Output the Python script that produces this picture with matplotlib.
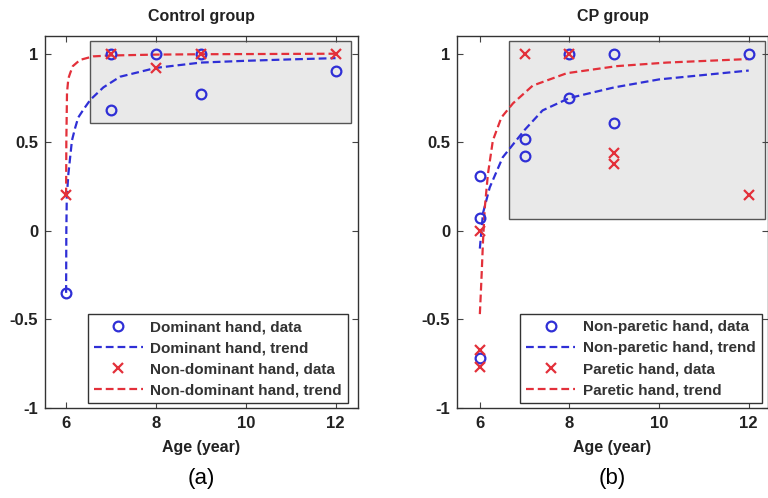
import matplotlib
matplotlib.use("Agg")
import matplotlib.pyplot as plt
from matplotlib.patches import Rectangle

plt.rcParams['font.family'] = ['Liberation Sans', 'DejaVu Sans']

# ---------------- data: Control group ----------------
dom_x = [6, 7, 7, 8, 9, 9, 12]
dom_y = [-0.35, 1.0, 0.68, 1.0, 1.0, 0.77, 0.90]
nondom_x = [6, 7, 8, 9, 12]
nondom_y = [0.20, 1.0, 0.92, 1.0, 1.0]
# trend curves
dom_tr_x = [6, 6.005, 6.015, 6.05, 6.09, 6.13, 6.2, 6.27, 6.4, 6.54, 6.83, 7.2, 8, 9, 10, 11, 12]
dom_tr_y = [-0.35, 0.0, 0.19, 0.32, 0.415, 0.51, 0.58, 0.64, 0.69, 0.74, 0.81, 0.87, 0.92, 0.95, 0.96, 0.968, 0.975]
nondom_tr_x = [6, 6.005, 6.02, 6.05, 6.09, 6.15, 6.31, 6.6, 7, 8, 9, 10, 12]
nondom_tr_y = [0.20, 0.50, 0.78, 0.86, 0.89, 0.93, 0.965, 0.985, 0.99, 0.995, 0.997, 0.998, 1.0]

# ---------------- data: CP group ----------------
np_x = [6, 6, 6, 7, 7, 8, 8, 9, 9, 12]
np_y = [0.31, 0.07, -0.72, 0.52, 0.42, 0.75, 1.0, 1.0, 0.61, 1.0]
par_x = [6, 6, 6, 7, 8, 9, 9, 12]
par_y = [0.0, -0.67, -0.77, 1.0, 1.0, 0.44, 0.38, 0.20]
np_tr_x = [6, 6.07, 6.22, 6.51, 7.0, 7.4, 8, 9, 10, 11, 12]
np_tr_y = [-0.10, 0.10, 0.245, 0.415, 0.57, 0.68, 0.75, 0.81, 0.855, 0.88, 0.905]
par_tr_x = [6, 6.02, 6.04, 6.07, 6.11, 6.18, 6.29, 6.48, 6.74, 7.18, 7.94, 9.06, 10.17, 12]
par_tr_y = [-0.47, -0.36, -0.245, -0.06, 0.13, 0.32, 0.51, 0.64, 0.72, 0.82, 0.89, 0.93, 0.95, 0.97]

xticks = [6, 8, 10, 12]
yticks = [-1, -0.5, 0, 0.5, 1]
ytick_labels = ['-1', '-0.5', '0', '0.5', '1']

BLUE = '#2f2fd6'
RED = '#e3303a'

W, H = 768, 498
fig = plt.figure(figsize=(W / 100, H / 100), dpi=100)


def px_axes(l, r, t, b):
    return fig.add_axes([l / W, (H - b) / H, (r - l) / W, (b - t) / H])


def style(ax, xlim):
    ax.set_xlim(*xlim)
    ax.set_ylim(-1, 1.1)
    ax.set_xticks(xticks)
    ax.set_yticks(yticks)
    ax.set_yticklabels(ytick_labels)
    ax.tick_params(direction='in', top=True, right=True, length=4,
                   labelsize=12, width=0.8, color='#444444')
    ax.tick_params(axis='x', pad=6)
    ax.tick_params(axis='y', pad=5)
    for lab in ax.get_xticklabels() + ax.get_yticklabels():
        lab.set_fontweight('bold')
        lab.set_color('#222222')
    for s in ax.spines.values():
        s.set_color('#333333')
        s.set_linewidth(1.0)
    ax.set_xlabel('Age (year)', fontsize=11.5, fontweight='bold', labelpad=6, color='#222222')


def panel(ax, xs1, ys1, xs2, ys2, tx1, ty1, tx2, ty2, labels, rect, title, tag, leg_x):
    ax.add_patch(Rectangle((rect[0], rect[1]), rect[2] - rect[0], rect[3] - rect[1],
                           facecolor='#e9e9e9', edgecolor='#555555', lw=1.0, zorder=1))
    h1, = ax.plot(xs1, ys1, 'o', ls='none', mfc='none', mec=BLUE, ms=7, mew=1.6, zorder=4)
    h2, = ax.plot(tx1, ty1, ls=(0, (3.5, 1.8)), color=BLUE, lw=1.6, zorder=3)
    h3, = ax.plot(xs2, ys2, 'x', ls='none', color=RED, ms=6.5, mew=1.6, zorder=4)
    h4, = ax.plot(tx2, ty2, ls=(0, (3.5, 1.8)), color=RED, lw=1.6, zorder=3)
    leg = ax.legend([h1, h2, h3, h4], labels, loc='lower right',
                    bbox_to_anchor=(leg_x, 0.013), borderaxespad=0,
                    prop={'size': 11, 'weight': 'bold'}, handlelength=3.2,
                    labelspacing=0.45, handletextpad=0.5, borderpad=0.4,
                    fancybox=False, framealpha=1, edgecolor='#333333')
    leg.get_frame().set_linewidth(1.0)
    for t in leg.get_texts():
        t.set_color('#333333')
    ax.set_title(title, fontsize=11.5, fontweight='bold', pad=11, color='#222222')
    ax.text(0.5, -0.16, tag, transform=ax.transAxes, ha='center', va='top', fontsize=16)


ax1 = px_axes(45, 358, 36, 408)
style(ax1, (5.53, 12.5))
panel(ax1, dom_x, dom_y, nondom_x, nondom_y, dom_tr_x, dom_tr_y, nondom_tr_x, nondom_tr_y,
      ['Dominant hand, data', 'Dominant hand, trend',
       'Non-dominant hand, data', 'Non-dominant hand, trend'],
      (6.53, 0.61, 12.34, 1.074), 'Control group', '(a)', 0.968)

ax2 = px_axes(457, 768, 36, 408)
style(ax2, (5.49, 12.43))
panel(ax2, np_x, np_y, par_x, par_y, np_tr_x, np_tr_y, par_tr_x, par_tr_y,
      ['Non-paretic hand, data', 'Non-paretic hand, trend',
       'Paretic hand, data', 'Paretic hand, trend'],
      (6.65, 0.068, 12.37, 1.074), 'CP group', '(b)', 0.98)

fig.savefig('out.png', dpi=100)
